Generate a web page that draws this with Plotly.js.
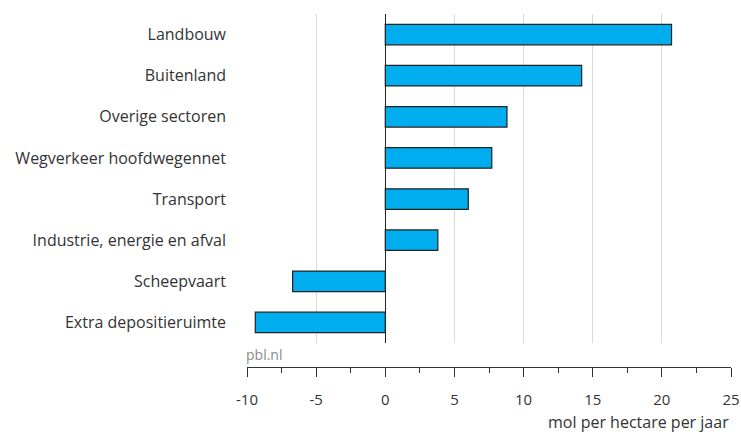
<!DOCTYPE html>
<html>
<head>
<meta charset="utf-8">
<script src="https://cdn.plot.ly/plotly-3.0.1.min.js"></script>
<style>html,body{margin:0;padding:0;background:#fff;}#chart{width:741px;height:432px;}</style>
</head>
<body>
<div id="chart"></div>
<script>
const categories = ["Landbouw", "Buitenland", "Overige sectoren", "Wegverkeer hoofdwegennet", "Transport", "Industrie, energie en afval", "Scheepvaart", "Extra depositieruimte"];
const values = [20.7, 14.2, 8.8, 7.7, 6.0, 3.8, -6.7, -9.4];
const xTickVals = [-10, -5, 0, 5, 10, 15, 20, 25];
const xTickText = ["-10", "-5", "0", "5", "10", "15", "20", "25"];
const sourceLabel = "pbl.nl";
const unitLabel = "mol per hectare per jaar";

const font = "Open Sans, Noto Sans, sans-serif";

const trace = {
  type: "bar",
  orientation: "h",
  y: categories,
  x: values,
  width: 0.5,
  marker: { color: "#00AEEF", line: { color: "#222222", width: 1.2 } },
  hoverinfo: "none"
};

const layout = {
  width: 741,
  height: 432,
  margin: { l: 247, r: 10, t: 14, b: 65 },
  paper_bgcolor: "#ffffff",
  plot_bgcolor: "#ffffff",
  showlegend: false,
  font: { family: font, color: "#333333", size: 16 },
  bargap: 0.5,
  xaxis: {
    anchor: "free",
    position: 0,
    range: [-10, 25],
    tickvals: xTickVals,
    ticktext: xTickText,
    showgrid: true,
    gridcolor: "#d9d9d9",
    gridwidth: 1,
    zeroline: true,
    zerolinecolor: "#222222",
    zerolinewidth: 1.5,
    showline: true,
    linecolor: "#333333",
    linewidth: 1,
    ticks: "outside",
    ticklen: 9,
    tickcolor: "#333333",
    tickwidth: 1,
    ticklabelstandoff: 10,
    minor: { dtick: 2.5, tick0: 0, ticks: "outside", ticklen: 5, tickcolor: "#333333", showgrid: false },
    tickfont: { family: font, size: 15, color: "#333333" },
    fixedrange: true
  },
  yaxis: {
    domain: [0.068, 1],
    type: "category",
    autorange: "reversed",
    showgrid: false,
    zeroline: false,
    showline: false,
    ticks: "",
    ticklabelstandoff: 20,
    tickfont: { family: font, size: 16, color: "#333333" },
    fixedrange: true
  },
  annotations: [
    {
      xref: "paper", yref: "paper", x: 0, y: 0.034,
      xanchor: "left", yanchor: "middle", xshift: -3,
      text: sourceLabel, showarrow: false,
      font: { family: font, size: 14, color: "#8c8c8c" }
    },
    {
      xref: "paper", yref: "paper", x: 1, y: -0.156,
      xanchor: "right", yanchor: "middle",
      text: unitLabel, showarrow: false,
      font: { family: font, size: 16, color: "#333333" }
    }
  ]
};

Plotly.newPlot("chart", [trace], layout, { displayModeBar: false, staticPlot: true });
</script>
</body>
</html>
